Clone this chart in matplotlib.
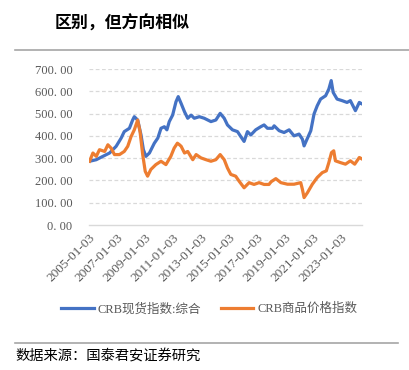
import matplotlib
matplotlib.use("Agg")
import matplotlib.pyplot as plt
from matplotlib.lines import Line2D

plt.rcParams['font.family'] = ['Liberation Serif', 'Noto Sans CJK SC', 'DejaVu Sans']

title = "区别，但方向相似"
source = "数据来源：国泰君安证券研究"
series_names = ["CRB现货指数:综合", "CRB商品价格指数"]

tick_years = [2005, 2007, 2009, 2011, 2013, 2015, 2017, 2019, 2021, 2023]
tick_labels = ["2005-01-03", "2007-01-03", "2009-01-03", "2011-01-03", "2013-01-03",
               "2015-01-03", "2017-01-03", "2019-01-03", "2021-01-03", "2023-01-03"]
y_ticks = [0, 100, 200, 300, 400, 500, 600, 700]

# CRB spot index: composite (decimal year, value)
spot_t = [2005.02, 2005.5, 2005.97, 2006.45, 2006.92, 2007.28, 2007.5, 2007.87, 2008.1, 2008.22,
          2008.46, 2008.7, 2008.87, 2009.05, 2009.3, 2009.65, 2009.9, 2010.13, 2010.37, 2010.55,
          2010.72, 2010.96, 2011.2, 2011.36, 2011.57, 2011.81, 2012.04, 2012.28, 2012.51, 2012.87,
          2013.22, 2013.7, 2014.05, 2014.36, 2014.65, 2014.88, 2015.24, 2015.6, 2015.83, 2016.07,
          2016.31, 2016.55, 2016.9, 2017.26, 2017.5, 2017.74, 2018.1, 2018.22, 2018.58, 2018.93,
          2019.29, 2019.64, 2020.0, 2020.24, 2020.36, 2020.52, 2020.84, 2021.07, 2021.3, 2021.54,
          2021.9, 2022.13, 2022.3, 2022.44, 2022.72, 2023.08, 2023.43, 2023.67, 2024.03, 2024.31,
          2024.45]
spot_v = [286, 293, 308, 323, 353, 390, 419, 434, 471, 486,
          471, 404, 338, 308, 323, 367, 390, 434, 441, 427,
          464, 493, 553, 576, 545, 508, 479, 493, 479, 486,
          479, 464, 471, 501, 479, 449, 427, 419, 397, 375,
          419, 404, 427, 441, 449, 434, 434, 445, 423, 415,
          427, 400, 408, 385, 355, 378, 423, 498, 535, 565,
          580, 610, 648, 595, 565, 558, 550, 558, 513, 550,
          545]

# CRB commodity price index (decimal year, value)
crb_t = [2005.02, 2005.26, 2005.5, 2005.73, 2006.1, 2006.33, 2006.56, 2006.8, 2007.16, 2007.5,
         2007.75, 2007.99, 2008.22, 2008.46, 2008.63, 2008.82, 2009.0, 2009.17, 2009.4, 2009.76,
         2010.13, 2010.48, 2010.83, 2011.07, 2011.3, 2011.45, 2011.57, 2011.81, 2012.04, 2012.4,
         2012.64, 2012.99, 2013.35, 2013.7, 2014.05, 2014.36, 2014.65, 2014.88, 2015.12, 2015.47,
         2015.71, 2016.07, 2016.43, 2016.78, 2017.14, 2017.5, 2017.85, 2018.0, 2018.34, 2018.7,
         2019.17, 2019.64, 2020.12, 2020.24, 2020.36, 2020.6, 2020.95, 2021.3, 2021.66, 2021.95,
         2022.13, 2022.32, 2022.48, 2022.6, 2022.96, 2023.32, 2023.67, 2023.98, 2024.31, 2024.45]
crb_v = [286, 323, 308, 338, 330, 360, 345, 316, 316, 330,
         353, 397, 427, 471, 419, 316, 241, 219, 249, 271,
         286, 271, 308, 345, 367, 360, 353, 323, 330, 293,
         316, 301, 293, 286, 293, 316, 293, 256, 227, 219,
         197, 167, 190, 182, 190, 182, 182, 194, 208, 190,
         183, 183, 190, 160, 123, 145, 183, 213, 235, 243,
         280, 325, 333, 288, 280, 273, 288, 273, 303, 298]

blue = "#4472C4"
orange = "#ED7D31"

fig = plt.figure(figsize=(4.09, 3.70), dpi=100)
ax = fig.add_axes([89/409, 1-225/370, (361.7-89)/409, (225-69)/370])

ax.plot(spot_t, spot_v, color=blue, lw=2.3, solid_joinstyle='round')
ax.plot(crb_t, crb_v, color=orange, lw=2.3, solid_joinstyle='round')

ax.set_ylim(0, 700)
ax.set_xlim(2004.98, 2024.48)
ax.set_yticks(y_ticks)
ax.set_yticklabels([f"{v}.00".replace(".", ". ") for v in y_ticks], color="#595959", fontsize=9)
ax.set_xticks(tick_years)
ax.set_xticklabels(tick_labels, rotation=45, ha='right', va='top', rotation_mode='anchor',
                   color="#595959", fontsize=9.6)
ax.tick_params(axis='y', length=0, pad=12)
ax.tick_params(axis='x', length=0, pad=5)
for y in y_ticks[1:]:
    ax.axhline(y, color="#D9D9D9", lw=0.9, ls=(0, (3, 2)), zorder=0)
for s in ['top', 'right', 'left']:
    ax.spines[s].set_visible(False)
ax.spines['bottom'].set_color("#D9D9D9")
ax.spines['bottom'].set_linewidth(1)

handles = [Line2D([], [], color=blue, lw=2.3), Line2D([], [], color=orange, lw=2.3)]
fig.legend(handles, series_names, loc='center', bbox_to_anchor=(209/409, 1-309/370), ncol=2,
           frameon=False, fontsize=9, handlelength=2.6, columnspacing=1.6, handletextpad=0.3,
           labelcolor="#595959")

fig.text(55/409, 1-24/370, title, fontsize=12.2, fontweight='bold', family=['Noto Sans CJK SC'],
         va='center', ha='left')
fig.add_artist(Line2D([15/409, 1.0], [1-49.5/370, 1-49.5/370], color="#A6A6A6", lw=1.2))
fig.add_artist(Line2D([15/409, 398/409], [1-342.5/370, 1-342.5/370], color="#A6A6A6", lw=1.2))
fig.text(15/409, 1-356/370, source, fontsize=10.3, family=['Noto Sans CJK SC'], va='center', ha='left')

fig.savefig("out.png", dpi=100, facecolor='white')
